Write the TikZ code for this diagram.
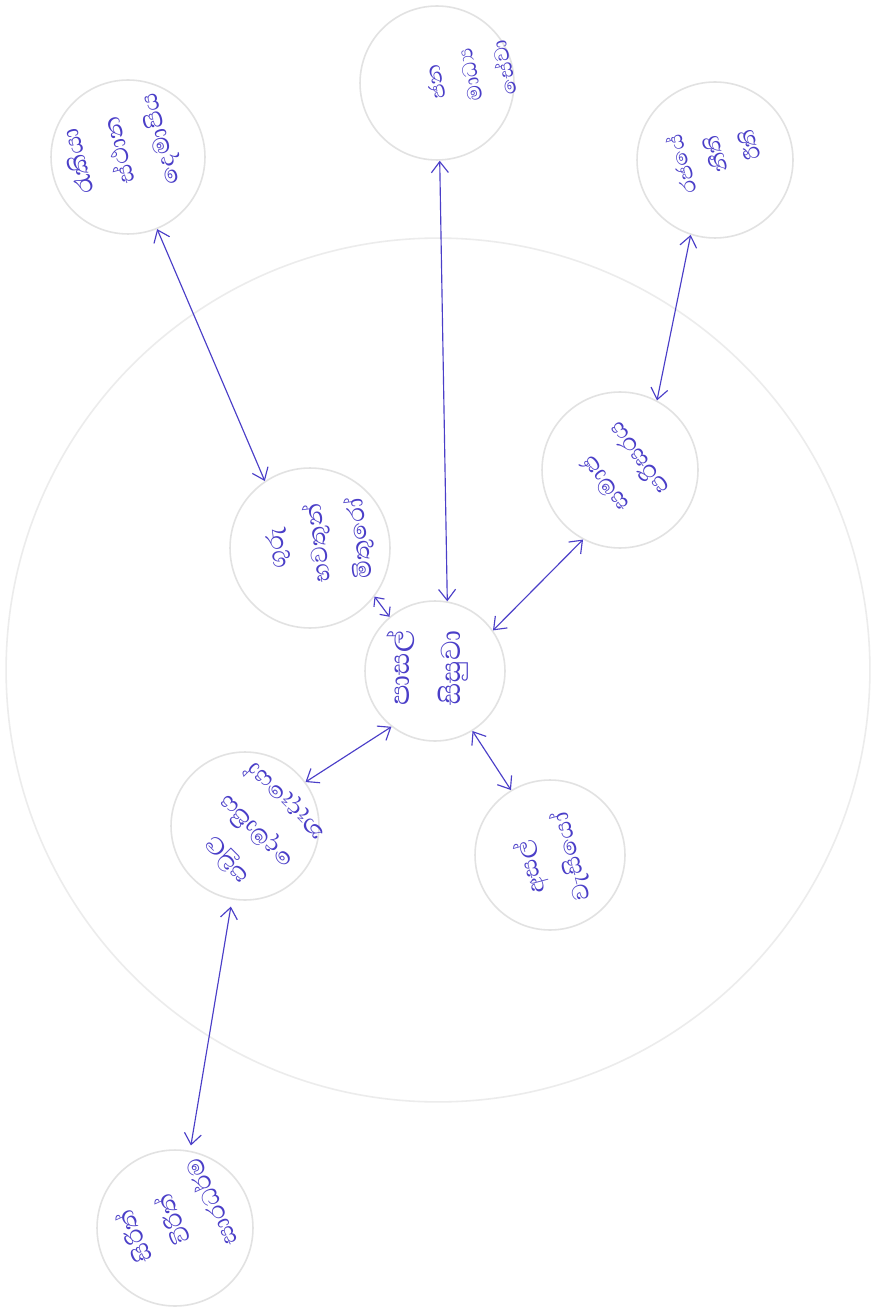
\documentclass[tikz,border=0pt]{standalone}
\usepackage{fontspec}
\newfontfamily\sinfont[Script=Sinhala]{Abhaya Libre}
\usetikzlibrary{arrows.meta}
\definecolor{ink}{RGB}{74,62,200}
\definecolor{rim}{RGB}{226,226,226}
\definecolor{ring}{RGB}{236,236,236}

\begin{document}
\begin{tikzpicture}[
  x=0.02cm, y=-0.02cm,
  bubble/.style={circle, draw=rim, line width=0.9pt, inner sep=0pt},
  word/.style={text=ink, align=center, inner sep=1pt,
               font=\sinfont\fontsize{17}{24}\selectfont},
  link/.style={draw=ink, line width=0.65pt,
               {Straight Barb[length=2.2mm, width=3.4mm]}-{Straight Barb[length=2.2mm, width=3.4mm]}},
]
  \useasboundingbox[fill=white] (0,0) rectangle (883,1310);

  % Outer ring
  \node[circle, draw=ring, line width=0.9pt, minimum size=17.28cm] (ring) at (438,670) {};

  % Centre and inner bubbles
  \node[bubble, minimum size=2.8cm]  (ctr) at (435,671) {};
  \node[bubble, minimum size=3.2cm]  (n1)  at (310,548) {};
  \node[bubble, minimum size=3.12cm] (n2)  at (620,470) {};
  \node[bubble, minimum size=2.96cm] (n3)  at (245,826) {};
  \node[bubble, minimum size=3.0cm]  (n4)  at (550,855) {};

  % Outer bubbles
  \node[bubble, minimum size=3.08cm] (o1) at (128,157) {};
  \node[bubble, minimum size=3.08cm] (o2) at (437,83) {};
  \node[bubble, minimum size=3.12cm] (o3) at (715,160) {};
  \node[bubble, minimum size=3.12cm] (o4) at (175,1228) {};

  % Labels
  \node[word, rotate=90, font=\sinfont\fontsize{20}{29}\selectfont] (ctr-t) at (428,668) {පාසල්\\සිසුවා};
  \node[word, rotate=97]  (n1-t) at (320,543) {ගුරු\\භවතුන්\\මිතුරෝ};
  \node[word, rotate=127] (n2-t) at (621,472) {සමාජ\\පරිසරය};
  \node[word, rotate=135] (n3-t) at (257,830) {පවුල\\දෙමාපිය\\නෑදෑයෝ};
  \node[word, rotate=105] (n4-t) at (551,862) {අසල්\\වැසියෝ};
  \node[word, rotate=105] (o1-t) at (121,150) {රැකියා\\ස්ථාන\\දෙමාපිය};
  \node[word, rotate=102, font=\sinfont\fontsize{15}{20}\selectfont] (o2-t) at (470,75) {ජන\\මාධ්‍ය\\සේවා};
  \node[word, rotate=106, font=\sinfont\fontsize{15}{20}\selectfont] (o3-t) at (715,155) {රජයේ\\නීති\\රීති};
  \node[word, rotate=114] (o4-t) at (172,1220) {සිරිත්\\විරිත්\\සාරධර්ම};

  % Links
  \draw[link] (ctr.80)   -- (o2.-88);
  \draw[link] (ctr.35)   -- (n2.-118);
  \draw[link, {Straight Barb[length=1.4mm, width=2.6mm]}-{Straight Barb[length=1.4mm, width=2.6mm]}] (ctr.130) -- (n1.-37);
  \draw[link] (ctr.-128) -- (n3.36);
  \draw[link] (ctr.-58)  -- (n4.121);
  \draw[link] (n1.124)   -- (o1.-68);
  \draw[link] (n2.62)    -- (o3.-108);
  \draw[link, shorten <=4pt, shorten >=3pt] (n3.-100) -- (o4.79);
\end{tikzpicture}
\end{document}
